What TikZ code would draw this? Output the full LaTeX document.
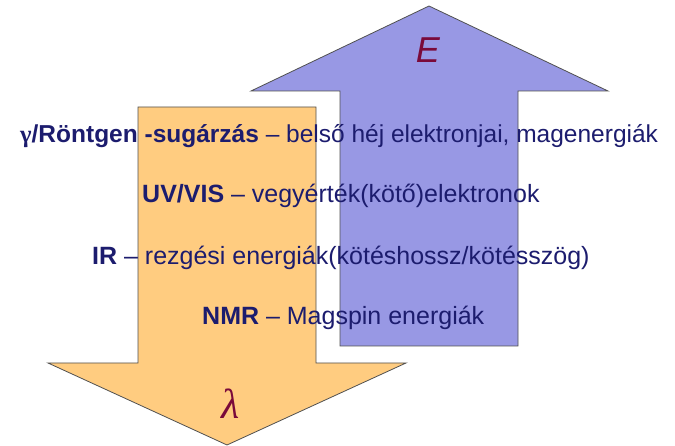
\documentclass[tikz,border=0pt]{standalone}
\usepackage{fontspec}
\setmainfont{Liberation Sans}
\newfontfamily\symfont{Liberation Serif}
\definecolor{txtblue}{RGB}{28,28,110}
\definecolor{arrblue}{RGB}{152,152,228}
\definecolor{arrorange}{RGB}{255,204,128}
\definecolor{maroon}{RGB}{122,10,58}
\definecolor{edge}{RGB}{80,80,80}
\begin{document}
\begin{tikzpicture}[x=1pt,y=1pt,
  arrowshape/.style={draw=edge,line width=0.8pt,line join=miter},
  line/.style={anchor=base west,inner sep=0pt,text=txtblue,font=\fontsize{25}{30}\selectfont},
  sym/.style={text=maroon,inner sep=0pt}]
\useasboundingbox (0,0) rectangle (675,446);
% blue up arrow
\draw[arrowshape,fill=arrblue] (429,440) -- (608,355) -- (518,355) -- (518,100) -- (340,100) -- (340,355) -- (251,355) -- cycle;
% orange down arrow
\draw[arrowshape,fill=arrorange] (138,339) -- (316,339) -- (316,83) -- (406,83) -- (227,1) -- (48,83) -- (138,83) -- cycle;
\node[sym,font=\fontsize{36}{40}\selectfont\itshape] (E) at (428,396) {E};
\node[sym,font=\fontsize{42}{46}\selectfont\symfont\itshape] (lam) at (231,42) {λ};
\node[line,font=\fontsize{24.5}{30}\selectfont] (l1) at (20,303) {\textbf{{\symfont γ}/Röntgen -sugárzás} – belső héj elektronjai, magenergiák};
\node[line] (l2) at (142,243) {\textbf{UV/VIS} – vegyérték(kötő)elektronok};
\node[line] (l3) at (92,181) {\textbf{IR} – rezgési energiák(kötéshossz/kötésszög)};
\node[line] (l4) at (202,121) {\textbf{NMR} – Magspin energiák};
\end{tikzpicture}
\end{document}
